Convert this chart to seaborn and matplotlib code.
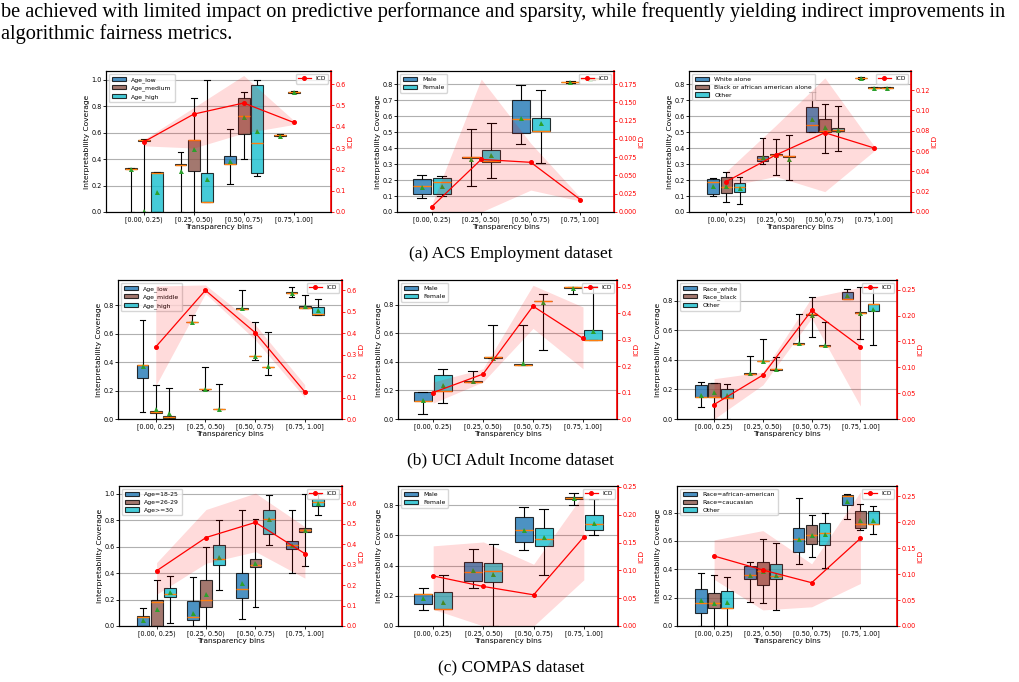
import matplotlib
matplotlib.use("Agg")
import matplotlib.pyplot as plt
from matplotlib.ticker import FormatStrFormatter
import seaborn as sns
import pandas as pd
import numpy as np

bins = ["[0.00, 0.25)", "[0.25, 0.50)", "[0.50, 0.75)", "[0.75, 1.00]"]

# box rows are bin-major, group-minor: [whislo, q1, median, q3, whishi]; None = no box

### (a) ACS Employment
acs_age = ["Age_low", "Age_medium", "Age_high"]
acs_age_box = [
  [0.0, 0.322, 0.325, 0.33, 0.33], [0.0, 0.54, 0.545, 0.548, 0.55], [0.0, 0.0, 0.298, 0.30, 0.30],
  [0.0, 0.357, 0.359, 0.36, 0.45], [0.0, 0.313, 0.545, 0.548, 0.86], [0.076, 0.076, 0.078, 0.295, 1.0],
  [0.212, 0.36, 0.362, 0.42, 0.63], [0.40, 0.593, 0.727, 0.859, 0.91], [0.273, 0.295, 0.518, 0.96, 0.995],
  [0.575, 0.578, 0.58, 0.585, 0.588], [0.90, 0.902, 0.905, 0.91, 0.912], None,
]
acs_age_mean = [0.323, 0.005, 0.152, 0.31, 0.475, 0.247, 0.384, 0.715, 0.616, 0.578, 0.905, None]
acs_age_icd = [0.329, 0.459, 0.511, 0.42]
acs_age_lo = [0.31, 0.30, 0.37, 0.41]
acs_age_hi = [0.34, 0.49, 0.64, 0.43]

acs_sex = ["Male", "Female"]
acs_sex_box = [
  [0.085, 0.11, 0.16, 0.205, 0.235], [0.10, 0.11, 0.185, 0.215, 0.225],
  [0.16, 0.34, 0.342, 0.345, 0.52], [0.215, 0.315, 0.32, 0.39, 0.56],
  [0.425, 0.495, 0.585, 0.705, 0.795], [0.305, 0.505, 0.51, 0.59, 0.765],
  [0.81, 0.812, 0.815, 0.818, 0.82], [0.83, 0.832, 0.835, 0.838, 0.84],
]
acs_sex_mean = [0.155, 0.165, 0.33, 0.36, 0.59, 0.555, 0.815, 0.835]
acs_sex_icd = [0.007, 0.072, 0.068, 0.017]
acs_sex_lo = [0.0, 0.0, 0.03, 0.015]
acs_sex_hi = [0.01, 0.182, 0.094, 0.02]

acs_race = ["White alone", "Black or african american alone", "Other"]
acs_race_box = [
  [0.10, 0.11, 0.185, 0.21, 0.215], [0.065, 0.12, 0.155, 0.22, 0.25], [0.05, 0.125, 0.155, 0.18, 0.22],
  [0.30, 0.32, 0.33, 0.35, 0.465], [0.23, 0.355, 0.36, 0.362, 0.455], [0.20, 0.345, 0.348, 0.35, 0.48],
  [0.50, 0.50, 0.545, 0.66, 0.75], [0.37, 0.50, 0.51, 0.58, 0.68], [0.385, 0.505, 0.515, 0.525, 0.665],
  [0.835, 0.837, 0.84, 0.843, 0.845], [0.775, 0.777, 0.78, 0.783, 0.785], [0.775, 0.777, 0.78, 0.783, 0.785],
]
acs_race_mean = [0.16, 0.16, 0.15, 0.345, 0.355, 0.335, 0.585, 0.535, 0.515, 0.84, 0.775, 0.775]
acs_race_icd = [0.030, 0.056, 0.078, 0.063]
acs_race_lo = [0.025, 0.035, 0.02, 0.06]
acs_race_hi = [0.04, 0.085, 0.132, 0.065]

### (b) UCI Adult Income
adult_age = ["Age_low", "Age_middle", "Age_high"]
adult_age_box = [
  [0.05, 0.29, 0.38, 0.38, 0.70], [0.0, 0.04, 0.05, 0.055, 0.24], [0.0, 0.01, 0.015, 0.02, 0.22],
  [0.68, 0.68, 0.682, 0.685, 0.73], [0.205, 0.208, 0.21, 0.212, 0.365], [0.068, 0.069, 0.07, 0.072, 0.245],
  [0.773, 0.774, 0.775, 0.778, 0.905], [0.415, 0.44, 0.442, 0.445, 0.68], [0.31, 0.363, 0.365, 0.368, 0.615],
  [0.855, 0.887, 0.89, 0.893, 0.93], [0.78, 0.78, 0.782, 0.795, 0.875], [0.735, 0.735, 0.74, 0.785, 0.845],
]
adult_age_mean = [0.375, 0.07, 0.045, 0.68, 0.21, 0.07, 0.78, 0.445, 0.37, 0.89, 0.795, 0.765]
adult_age_icd = [0.336, 0.60, 0.403, 0.127]
adult_age_lo = [0.155, 0.585, 0.37, 0.10]
adult_age_hi = [0.62, 0.625, 0.44, 0.16]

adult_sex = ["Male", "Female"]
adult_sex_box = [
  [0.035, 0.125, 0.125, 0.19, 0.19], [0.11, 0.195, 0.195, 0.305, 0.35],
  [0.26, 0.26, 0.262, 0.265, 0.335], [0.43, 0.43, 0.432, 0.435, 0.66],
  [0.378, 0.378, 0.38, 0.382, 0.66], [0.48, 0.823, 0.825, 0.828, 0.875],
  [0.875, 0.918, 0.92, 0.922, 0.925], [0.55, 0.55, 0.552, 0.62, 0.93],
]
adult_sex_mean = [0.13, 0.235, 0.265, 0.43, 0.39, 0.82, 0.915, 0.615]
adult_sex_icd = [0.10, 0.17, 0.427, 0.305]
adult_sex_lo = [0.06, 0.14, 0.343, 0.19]
adult_sex_hi = [0.14, 0.19, 0.506, 0.424]

adult_race = ["Race_white", "Race_black", "Other"]
adult_race_box = [
  [0.08, 0.15, 0.15, 0.23, 0.25], [0.0, 0.15, 0.15, 0.245, 0.245], [0.0, 0.145, 0.145, 0.205, 0.235],
  [0.305, 0.305, 0.307, 0.31, 0.43], [0.39, 0.39, 0.392, 0.395, 0.545], [0.335, 0.335, 0.337, 0.34, 0.42],
  [0.508, 0.508, 0.51, 0.512, 0.71], [0.555, 0.708, 0.71, 0.712, 0.83], [0.495, 0.495, 0.497, 0.50, 0.66],
  [0.81, 0.81, 0.812, 0.86, 0.88], [0.545, 0.718, 0.72, 0.722, 0.895], [0.50, 0.73, 0.78, 0.78, 0.89],
]
adult_race_mean = [0.165, 0.18, 0.165, 0.31, 0.39, 0.34, 0.515, 0.705, 0.50, 0.84, 0.72, 0.745]
adult_race_icd = [0.028, 0.085, 0.21, 0.14]
adult_race_lo = [0.0, 0.066, 0.195, 0.025]
adult_race_hi = [0.078, 0.091, 0.235, 0.255]

### (c) COMPAS
compas_age = ["Age=18-25", "Age=26-29", "Age>=30"]
compas_age_box = [
  [0.0, 0.0, 0.065, 0.075, 0.14], [0.0, 0.0, 0.185, 0.20, 0.345], [0.02, 0.22, 0.245, 0.285, 0.375],
  [0.0, 0.045, 0.065, 0.19, 0.37], [0.0, 0.145, 0.195, 0.345, 0.60], [0.27, 0.46, 0.51, 0.61, 0.80],
  [0.05, 0.21, 0.28, 0.405, 0.875], [0.145, 0.45, 0.46, 0.51, 0.81], [0.61, 0.70, 0.81, 0.88, 0.99],
  [0.40, 0.585, 0.615, 0.645, 0.875], [0.455, 0.71, 0.73, 0.74, 1.0], [0.84, 0.905, 0.94, 0.96, 1.0],
]
compas_age_mean = [0.045, 0.125, 0.255, 0.10, 0.24, 0.525, 0.325, 0.48, 0.81, 0.61, 0.73, 0.935]
compas_age_icd = [0.27, 0.433, 0.507, 0.354]
compas_age_lo = [0.155, 0.307, 0.364, 0.234]
compas_age_hi = [0.31, 0.57, 0.65, 0.486]

compas_sex = ["Male", "Female"]
compas_sex_box = [
  [0.105, 0.145, 0.215, 0.215, 0.25], [0.0, 0.115, 0.115, 0.225, 0.335],
  [0.255, 0.295, 0.355, 0.425, 0.51], [0.0, 0.29, 0.365, 0.42, 0.545],
  [0.505, 0.555, 0.635, 0.72, 0.79], [0.34, 0.53, 0.58, 0.65, 0.775],
  [0.80, 0.845, 0.85, 0.855, 0.88], [0.60, 0.635, 0.675, 0.735, 0.84],
]
compas_sex_mean = [0.185, 0.16, 0.37, 0.345, 0.635, 0.59, 0.85, 0.685]
compas_sex_icd = [0.090, 0.071, 0.056, 0.16]
compas_sex_lo = [0.03, 0.0, 0.0, 0.083]
compas_sex_hi = [0.144, 0.151, 0.111, 0.238]

compas_race = ["Race=african-american", "Race=caucasian", "Other"]
compas_race_box = [
  [0.0, 0.095, 0.165, 0.26, 0.375], [0.0, 0.125, 0.16, 0.23, 0.36], [0.0, 0.125, 0.125, 0.25, 0.345],
  [0.17, 0.33, 0.36, 0.42, 0.455], [0.16, 0.29, 0.385, 0.455, 0.615], [0.11, 0.33, 0.355, 0.435, 0.585],
  [0.435, 0.525, 0.615, 0.69, 0.90], [0.485, 0.58, 0.64, 0.71, 0.78], [0.41, 0.57, 0.655, 0.725, 0.795],
  [0.755, 0.855, 0.92, 0.925, 0.935], [0.675, 0.695, 0.72, 0.815, 0.86], [0.65, 0.72, 0.72, 0.81, 0.85],
]
compas_race_mean = [0.18, 0.165, 0.17, 0.36, 0.385, 0.36, 0.615, 0.64, 0.65, 0.885, 0.745, 0.745]
compas_race_icd = [0.135, 0.108, 0.0835, 0.169]
compas_race_lo = [0.09, 0.031, 0.037, 0.082]
compas_race_hi = [0.166, 0.184, 0.12, 0.259]

text_top = ["be achieved with limited impact on predictive performance and sparsity, while frequently yielding indirect improvements in",
            "algorithmic fairness metrics."]
captions = ["(a) ACS Employment dataset", "(b) UCI Adult Income dataset", "(c) COMPAS dataset"]

####

W, H = 1020, 682
fig = plt.figure(figsize=(W / 100, H / 100), dpi=100)

three_colors = ["#1f77b4", "#8c564b", "#17becf"]
two_colors = ["#1f77b4", "#17becf"]


def draw_panel(rect, groups, box, means, icd, icd_lo, icd_hi, xlim, ytop, ystep, y2top, y2step, fmt2):
  l, t, r, b = rect
  ax = fig.add_axes([l / W, 1 - b / H, (r - l) / W, (b - t) / H])
  n = len(groups)
  colors = three_colors if n == 3 else two_colors

  rows = []
  for i, stats in enumerate(box):
    if stats is None:
      continue
    for v in stats:
      rows.append((bins[i // n], groups[i % n], v))
  df = pd.DataFrame(rows, columns=["bin", "group", "value"])
  sns.boxplot(data=df, x="bin", y="value", hue="group", order=bins, hue_order=groups,
              palette=colors, saturation=1, whis=(0, 100), width=0.8, gap=0.1,
              linecolor="black", linewidth=0.8, fliersize=0,
              boxprops={"alpha": 0.8}, medianprops={"color": "#ff7f0e", "linewidth": 1.0}, ax=ax)

  mdf = pd.DataFrame([(bins[i // n], groups[i % n], m) for i, m in enumerate(means) if m is not None],
                     columns=["bin", "group", "mean"])
  sns.pointplot(data=mdf, x="bin", y="mean", hue="group", order=bins, hue_order=groups,
                palette=["#2ca02c"] * n, dodge=0.8 - 0.8 / n, errorbar=None, legend=False,
                markers="^", linestyles="none", markersize=3.6, markeredgewidth=0, zorder=5, ax=ax)

  ax.set_xlim(*xlim)
  ax.set_ylim(0, ytop)
  ax.set_yticks(np.arange(0, ytop, ystep))
  ax.yaxis.grid(True, color="#b0b0b0", linewidth=0.8)
  ax.xaxis.grid(False)
  ax.set_axisbelow(True)
  ax.tick_params(labelsize=4.7, length=2, pad=1, width=0.6)
  ax.set_xlabel("Transparency bins", fontsize=5.4, labelpad=0.5)
  ax.set_ylabel("Interpretability Coverage", fontsize=5.4, labelpad=1)
  sns.move_legend(ax, "upper left", title=None, fontsize=4.4, frameon=True,
                  handlelength=2.4, borderpad=0.45, labelspacing=0.4)

  ax2 = ax.twinx()
  sns.lineplot(x=bins, y=icd, ax=ax2, color="red", marker="o", markersize=2.8,
               markeredgecolor="red", linewidth=0.9, errorbar=None, label="ICD")
  ax2.fill_between(bins, icd_lo, icd_hi, color="red", alpha=0.14, linewidth=0)
  ax2.set_xlim(*xlim)
  ax2.set_ylim(0, y2top)
  ax2.set_yticks(np.arange(0, y2top, y2step))
  ax2.yaxis.set_major_formatter(FormatStrFormatter(fmt2))
  ax2.tick_params(axis="y", colors="red", labelsize=4.7, length=2, pad=1, width=0.6)
  ax2.set_ylabel("ICD", color="red", fontsize=5.4, labelpad=1)
  ax2.spines["right"].set_color("red")
  ax2.spines["right"].set_linewidth(1.2)
  ax2.legend(loc="upper right", fontsize=4.2, handlelength=2.2, borderpad=0.4)
  return ax


xl3 = (-0.76, 3.75)
xl2 = (-0.70, 3.68)

draw_panel((106, 71, 331, 212), acs_age, acs_age_box, acs_age_mean, acs_age_icd, acs_age_lo, acs_age_hi,
           xl3, 1.066, 0.2, 0.661, 0.1, "%.1f")
draw_panel((397, 71, 614, 212), acs_sex, acs_sex_box, acs_sex_mean, acs_sex_icd, acs_sex_lo, acs_sex_hi,
           xl2, 0.884, 0.1, 0.193, 0.025, "%.3f")
draw_panel((689, 71, 911, 212), acs_race, acs_race_box, acs_race_mean, acs_race_icd, acs_race_lo, acs_race_hi,
           xl3, 0.884, 0.1, 0.1387, 0.02, "%.2f")

draw_panel((118, 280, 342, 419), adult_age, adult_age_box, adult_age_mean, adult_age_icd, adult_age_lo, adult_age_hi,
           xl3, 0.978, 0.2, 0.648, 0.1, "%.1f")
draw_panel((398, 280, 617, 419), adult_sex, adult_sex_box, adult_sex_mean, adult_sex_icd, adult_sex_lo, adult_sex_hi,
           xl2, 0.972, 0.2, 0.526, 0.1, "%.1f")
draw_panel((677, 280, 897, 419), adult_race, adult_race_box, adult_race_mean, adult_race_icd, adult_race_lo, adult_race_hi,
           xl3, 0.942, 0.2, 0.269, 0.05, "%.2f")

draw_panel((119, 486, 342, 626), compas_age, compas_age_box, compas_age_mean, compas_age_icd, compas_age_lo, compas_age_hi,
           xl3, 1.06, 0.2, 0.685, 0.1, "%.1f")
draw_panel((398, 486, 618, 626), compas_sex, compas_sex_box, compas_sex_mean, compas_sex_icd, compas_sex_lo, compas_sex_hi,
           xl2, 0.928, 0.2, 0.2515, 0.05, "%.2f")
draw_panel((677, 486, 897, 626), compas_race, compas_race_box, compas_race_mean, compas_race_icd, compas_race_lo, compas_race_hi,
           xl3, 0.988, 0.2, 0.27, 0.05, "%.2f")

serif = ["Liberation Serif", "DejaVu Serif"]
fig.text(0.001, 1 - 12 / H, text_top[0], fontsize=14.6, family=serif, va="center", ha="left")
fig.text(0.001, 1 - 34 / H, text_top[1], fontsize=14.6, family=serif, va="center", ha="left")
for y, cap in zip([254, 460, 667], captions):
  fig.text(511 / W, 1 - y / H, cap, fontsize=12.5, family=serif, va="center", ha="center")

fig.savefig("out.png", dpi=100)
